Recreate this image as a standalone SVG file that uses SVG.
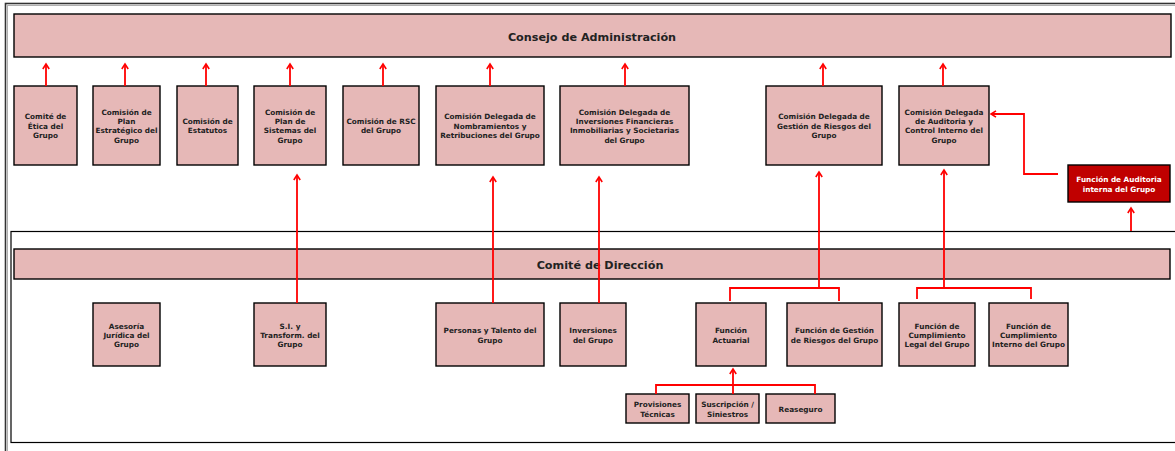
<svg xmlns="http://www.w3.org/2000/svg" width="1175" height="451" viewBox="0 0 1175 451">
  <style>
    .box { fill: #E6B8B7; stroke: #000; stroke-width: 1.4; }
    .audit { fill: #C00000; stroke: #000; stroke-width: 1.4; }
    .frame { fill: none; stroke: #000; stroke-width: 1.2; }
    .t { font-family: "DejaVu Sans", Verdana, sans-serif; font-weight: bold; font-size: 7.3px; fill: #222; text-anchor: middle; dominant-baseline: central; }
    .title { font-family: "DejaVu Sans", Verdana, sans-serif; font-weight: bold; font-size: 11.2px; fill: #222; text-anchor: middle; dominant-baseline: central; }
    .tw { fill: #fff; }
    .link { fill: none; stroke: #FF0000; stroke-width: 1.8; }
    .arrow { marker-end: url(#head); }
  </style>
  <defs>
    <marker id="head" markerUnits="userSpaceOnUse" markerWidth="12" markerHeight="12" refX="0" refY="0" viewBox="-7 -6 9 12" orient="auto">
      <path d="M-5,-3.2 L0,0 L-5,3.2" fill="none" stroke="#FF0000" stroke-width="1.6"/>
    </marker>
  </defs>

  <!-- outer frame -->
  <g id="outer-frame">
    <rect x="5.5" y="3.5" width="1200" height="470" fill="none" stroke="#333" stroke-width="1.6"/>
    <line x1="7.5" y1="5" x2="7.5" y2="451" stroke="#b0b0b0" stroke-width="1"/>
    <line x1="7" y1="5.5" x2="1175" y2="5.5" stroke="#b0b0b0" stroke-width="1"/>
  </g>

  <!-- management section frame -->
  <rect id="direccion-frame" class="frame" x="11" y="231.5" width="1200" height="211"/>

  <!-- board -->
  <g id="consejo">
    <rect class="box" x="14" y="14" width="1157" height="43"/>
    <text class="title" x="592" y="37">Consejo de Administración</text>
  </g>

  <!-- board committees -->
  <g id="etica">
    <rect class="box" x="14" y="86" width="63" height="79"/>
    <text class="t" x="45.5" y="116.7">Comité de</text>
    <text class="t" x="45.5" y="126.2">Ética del</text>
    <text class="t" x="45.5" y="135.7">Grupo</text>
  </g>
  <g id="plan-estrategico">
    <rect class="box" x="93" y="86" width="67" height="79"/>
    <text class="t" x="126.5" y="112.3">Comisión de</text>
    <text class="t" x="126.5" y="121.6">Plan</text>
    <text class="t" x="126.5" y="130.9">Estratégico del</text>
    <text class="t" x="126.5" y="140.2">Grupo</text>
  </g>
  <g id="estatutos">
    <rect class="box" x="177" y="86" width="61" height="79"/>
    <text class="t" x="207.5" y="121.6">Comisión de</text>
    <text class="t" x="207.5" y="130.9">Estatutos</text>
  </g>
  <g id="plan-sistemas">
    <rect class="box" x="254" y="86" width="72" height="79"/>
    <text class="t" x="290" y="112.3">Comisión de</text>
    <text class="t" x="290" y="121.6">Plan de</text>
    <text class="t" x="290" y="130.9">Sistemas del</text>
    <text class="t" x="290" y="140.2">Grupo</text>
  </g>
  <g id="rsc">
    <rect class="box" x="343" y="86" width="76" height="79"/>
    <text class="t" x="381" y="121.6">Comisión de RSC</text>
    <text class="t" x="381" y="130.9">del Grupo</text>
  </g>
  <g id="nombramientos">
    <rect class="box" x="436" y="86" width="108" height="79"/>
    <text class="t" x="490" y="116.7">Comisión Delegada de</text>
    <text class="t" x="490" y="126.2">Nombramientos y</text>
    <text class="t" x="490" y="135.7">Retribuciones del Grupo</text>
  </g>
  <g id="inversiones-cd">
    <rect class="box" x="560" y="86" width="129" height="79"/>
    <text class="t" x="624.5" y="112.3">Comisión Delegada de</text>
    <text class="t" x="624.5" y="121.6">Inversiones Financieras</text>
    <text class="t" x="624.5" y="130.9">Inmobiliarias y Societarias</text>
    <text class="t" x="624.5" y="140.2">del Grupo</text>
  </g>
  <g id="riesgos-cd">
    <rect class="box" x="766" y="86" width="116" height="79"/>
    <text class="t" x="824" y="116.7">Comisión Delegada de</text>
    <text class="t" x="824" y="126.2">Gestión de Riesgos del</text>
    <text class="t" x="824" y="135.7">Grupo</text>
  </g>
  <g id="auditoria-cd">
    <rect class="box" x="899" y="86" width="90" height="79"/>
    <text class="t" x="944" y="112.3">Comisión Delegada</text>
    <text class="t" x="944" y="121.6">de Auditoria y</text>
    <text class="t" x="944" y="130.9">Control Interno del</text>
    <text class="t" x="944" y="140.2">Grupo</text>
  </g>
  <g id="auditoria-interna">
    <rect class="audit" x="1068" y="165" width="102" height="37"/>
    <text class="t tw" x="1119" y="179.3">Función de Auditoria</text>
    <text class="t tw" x="1119" y="189.3">interna del Grupo</text>
  </g>

  <!-- management committee -->
  <g id="comite-direccion">
    <rect class="box" x="14" y="249" width="1156" height="30"/>
    <text class="title" x="600" y="265">Comité de Dirección</text>
  </g>

  <g id="asesoria">
    <rect class="box" x="93" y="303" width="67" height="63"/>
    <text class="t" x="126.5" y="326.5">Asesoría</text>
    <text class="t" x="126.5" y="335.7">Jurídica del</text>
    <text class="t" x="126.5" y="344.9">Grupo</text>
  </g>
  <g id="si">
    <rect class="box" x="254" y="303" width="72" height="63"/>
    <text class="t" x="290" y="326.5">S.I. y</text>
    <text class="t" x="290" y="335.7">Transform. del</text>
    <text class="t" x="290" y="344.9">Grupo</text>
  </g>
  <g id="personas">
    <rect class="box" x="436" y="303" width="108" height="63"/>
    <text class="t" x="490" y="330.3">Personas y Talento del</text>
    <text class="t" x="490" y="340.3">Grupo</text>
  </g>
  <g id="inversiones">
    <rect class="box" x="560" y="303" width="66" height="63"/>
    <text class="t" x="593" y="330.3">Inversiones</text>
    <text class="t" x="593" y="340.3">del Grupo</text>
  </g>
  <g id="actuarial">
    <rect class="box" x="696" y="303" width="70" height="63"/>
    <text class="t" x="731" y="330.3">Función</text>
    <text class="t" x="731" y="340.3">Actuarial</text>
  </g>
  <g id="gestion-riesgos">
    <rect class="box" x="787" y="303" width="95" height="63"/>
    <text class="t" x="834.5" y="330.3">Función de Gestión</text>
    <text class="t" x="834.5" y="340.3">de Riesgos del Grupo</text>
  </g>
  <g id="cumplimiento-legal">
    <rect class="box" x="899" y="303" width="76" height="63"/>
    <text class="t" x="937" y="326.3">Función de</text>
    <text class="t" x="937" y="335.3">Cumplimiento</text>
    <text class="t" x="937" y="344.3">Legal del Grupo</text>
  </g>
  <g id="cumplimiento-interno">
    <rect class="box" x="989" y="303" width="79" height="63"/>
    <text class="t" x="1028.5" y="326.3">Función de</text>
    <text class="t" x="1028.5" y="335.3">Cumplimiento</text>
    <text class="t" x="1028.5" y="344.3">Interno del Grupo</text>
  </g>

  <g id="provisiones">
    <rect class="box" x="626" y="394" width="63" height="29"/>
    <text class="t" x="657.5" y="404.3">Provisiones</text>
    <text class="t" x="657.5" y="414">Técnicas</text>
  </g>
  <g id="suscripcion">
    <rect class="box" x="696" y="394" width="63" height="29"/>
    <text class="t" x="727.5" y="404.3">Suscripción /</text>
    <text class="t" x="727.5" y="414">Siniestros</text>
  </g>
  <g id="reaseguro">
    <rect class="box" x="766" y="394" width="69" height="29"/>
    <text class="t" x="800.5" y="409">Reaseguro</text>
  </g>

  <!-- reporting lines -->
  <g id="connectors">
    <line class="link arrow" x1="46" y1="86" x2="46" y2="64"/>
    <line class="link arrow" x1="125" y1="86" x2="125" y2="64"/>
    <line class="link arrow" x1="206" y1="86" x2="206" y2="64"/>
    <line class="link arrow" x1="290" y1="86" x2="290" y2="64"/>
    <line class="link arrow" x1="383" y1="86" x2="383" y2="64"/>
    <line class="link arrow" x1="490" y1="86" x2="490" y2="64"/>
    <line class="link arrow" x1="625" y1="86" x2="625" y2="64"/>
    <line class="link arrow" x1="823" y1="86" x2="823" y2="64"/>
    <line class="link arrow" x1="943" y1="86" x2="943" y2="64"/>

    <line class="link arrow" x1="297" y1="303" x2="297" y2="175"/>
    <line class="link arrow" x1="493" y1="303" x2="493" y2="177"/>
    <line class="link arrow" x1="599" y1="303" x2="599" y2="177"/>

    <path class="link" d="M730,301 V288 H839 V301"/>
    <line class="link arrow" x1="819" y1="288" x2="819" y2="172"/>

    <path class="link" d="M917,299 V288 H1031 V299"/>
    <line class="link arrow" x1="944" y1="288" x2="944" y2="170"/>

    <path class="link" d="M656,394 V385 H815 V394"/>
    <line class="link arrow" x1="733" y1="394" x2="733" y2="369"/>

    <path class="link arrow" d="M1058,174 H1024 V114 H991"/>
    <line class="link arrow" x1="1131" y1="231" x2="1131" y2="208"/>
  </g>
</svg>
